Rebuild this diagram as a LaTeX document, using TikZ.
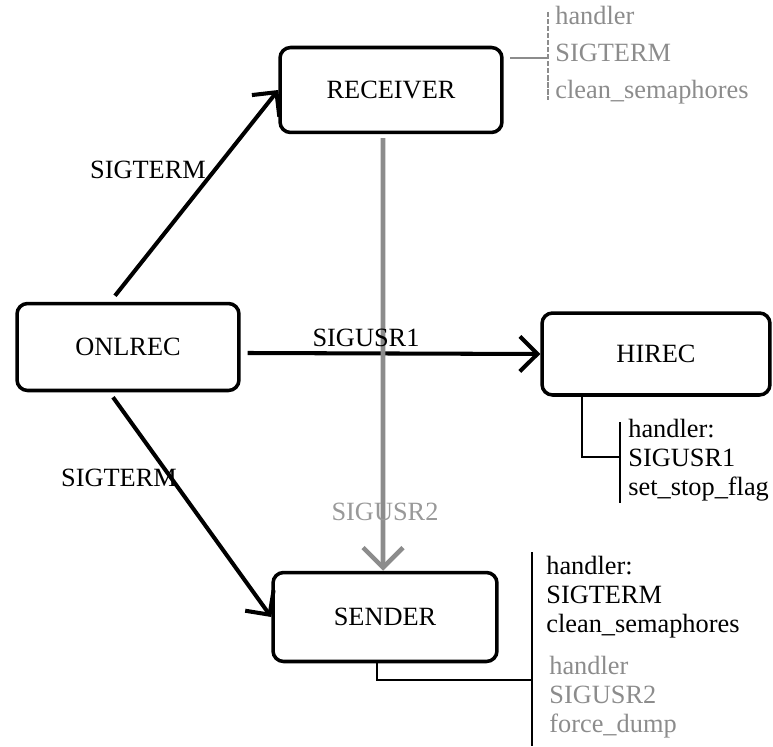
\documentclass[tikz,border=0pt]{standalone}
\usepackage{fontspec}
\setmainfont{Liberation Serif}
\usetikzlibrary{arrows.meta,positioning}

\begin{document}
\begin{tikzpicture}[x=0.02cm, y=-0.02cm]
		\tikzstyle{Proc}	= [draw, rounded corners=6pt, line width=2pt, minimum width=4.44cm, minimum height=1.7cm, inner sep=0pt, font=\fontsize{15}{17}\selectfont]
		\tikzstyle{Sig}		= [-{Straight Barb[length=3.5mm,width=7mm]}, line width=2.3pt]
		\tikzstyle{Weak}	= [-{Straight Barb[length=4mm,width=8mm]}, line width=2.6pt, black!45]
		\tikzstyle{Lbl}		= [inner sep=0pt, font=\fontsize{15}{17}\selectfont]
		\tikzstyle{Bar}		= [line width=1pt]
		\tikzstyle{Hnd}		= [anchor=west, align=left, inner sep=0pt, font=\fontsize{15}{16.5}\selectfont]

		\useasboundingbox (0,0) rectangle (773,746);

		\node (receiver) at (391,90) [Proc] {RECEIVER};
		\node (onlrec) at (128,347) [Proc][minimum height=1.74cm] {ONLREC};
		\node (hirec) at (656,354) [Proc][minimum width=4.56cm, minimum height=1.64cm] {HIREC};
		\node (sender) at (385,617) [Proc][minimum width=4.48cm, minimum height=1.78cm] {SENDER};

		\draw [Sig] ([xshift=-0.26cm,yshift=0.12cm]onlrec.north) to (receiver.west);
		\draw [Sig] ([xshift=0.14cm,yshift=-0.12cm]onlrec.east) to (hirec.west);
		\draw [Sig] ([xshift=-0.3cm,yshift=-0.1cm]onlrec.south) to (sender.west);
		\draw [Weak] ([xshift=-0.16cm,yshift=-0.08cm]receiver.south) to ([xshift=-0.04cm]sender.north);

		\node (sigterm1) at (148,170) [Lbl] {SIGTERM};
		\node (sigusr1) at (366,338) [Lbl] {SIGUSR1};
		\node (sigterm2) at (119,478) [Lbl] {SIGTERM};
		\node (sigusr2) at (385,512) [Lbl][black!40] {SIGUSR2};

		% handler of RECEIVER
		\coordinate (rstub) at (510,58);
		\coordinate (rjoin) at (548,58);
		\coordinate (rtop) at (548,12);
		\coordinate (rbot) at (548,100);
		\draw [Bar] (rstub) to (rjoin) [black!45];
		\draw [Bar] (rtop) to (rbot) [black!45, dashed, dash pattern=on 3pt off 1pt];
		\node (rhnd) at (555,55) [Hnd][black!45, font=\fontsize{15}{21}\selectfont] {handler\\SIGTERM\\clean\_semaphores};

		% handler of HIREC
		\coordinate (hknee) at (582,457);
		\coordinate (hjoin) at (620,457);
		\coordinate (htop) at (620,422);
		\coordinate (hbot) at (620,503);
		\draw [Bar] (hirec.south -| hknee) to (hknee) to (hjoin);
		\draw [Bar] (htop) to (hbot);
		\node (hhnd) at (628,460) [Hnd] {handler:\\SIGUSR1\\set\_stop\_flag};

		% handlers of SENDER
		\coordinate (sknee) at (377,680);
		\coordinate (sjoin) at (532,680);
		\coordinate (stop) at (532,552);
		\coordinate (sbot) at (532,746);
		\draw [Bar] (sender.south -| sknee) to (sknee) to (sjoin);
		\draw [Bar] (stop) to (sbot);
		\node (shnd1) at (546,597) [Hnd] {handler:\\SIGTERM\\clean\_semaphores};
		\node (shnd2) at (549,697) [Hnd][black!45] {handler\\SIGUSR2\\force\_dump};
	\end{tikzpicture}
\end{document}
